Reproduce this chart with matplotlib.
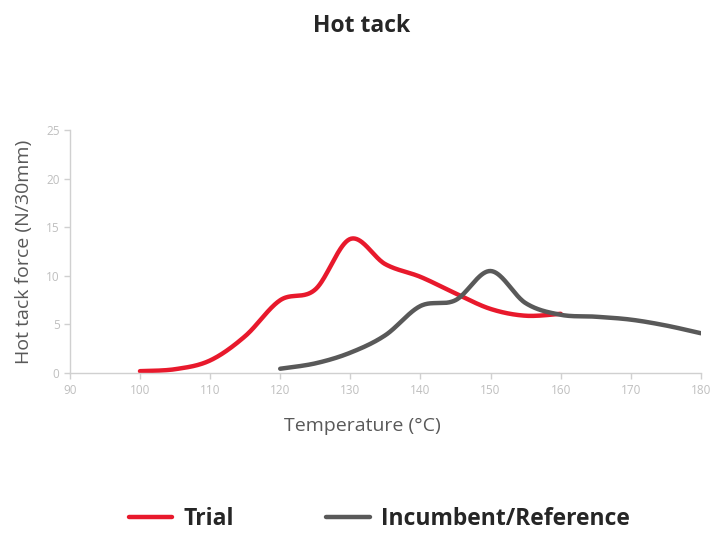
import numpy as np
from matplotlib import pyplot as plt

# values
trial_temp = [100, 105, 110, 115, 120, 125, 130, 135, 140, 145, 150, 155, 160]
trial_force = [0.2, 0.4, 1.3, 3.8, 7.5, 8.6, 13.8, 11.2, 9.9, 8.2, 6.6, 5.9, 6.1]

ref_temp = [120, 125, 130, 135, 140, 145, 150, 155, 160, 165, 170, 175, 180]
ref_force = [0.45, 1.0, 2.1, 3.9, 6.9, 7.5, 10.5, 7.2, 6.0, 5.8, 5.5, 4.9, 4.1]

x_ticks = np.arange(90, 181, 10)
y_ticks = np.arange(0, 26, 5)


def smooth(xs, ys, n=40):
    # excel-ish smoothed line: cubic bezier with catmull-rom control points
    xs = np.asarray(xs, float)
    ys = np.asarray(ys, float)
    px = np.concatenate([[xs[0]], xs, [xs[-1]]])
    py = np.concatenate([[ys[0]], ys, [ys[-1]]])
    out_x, out_y = [], []
    t = np.linspace(0, 1, n)
    for i in range(1, len(px) - 2):
        p0 = np.array([px[i], py[i]])
        p3 = np.array([px[i + 1], py[i + 1]])
        c1 = p0 + (np.array([px[i + 1], py[i + 1]]) - np.array([px[i - 1], py[i - 1]])) / 6
        c2 = p3 - (np.array([px[i + 2], py[i + 2]]) - np.array([px[i], py[i]])) / 6
        pts = ((1 - t) ** 3)[:, None] * p0 + (3 * (1 - t) ** 2 * t)[:, None] * c1 \
            + (3 * (1 - t) * t ** 2)[:, None] * c2 + (t ** 3)[:, None] * p3
        out_x.extend(pts[:, 0])
        out_y.extend(pts[:, 1])
    return out_x, out_y


plt.rcParams['font.family'] = ['Open Sans', 'DejaVu Sans']

fig = plt.figure(figsize=(7.13, 5.33), dpi=100)
ax = fig.add_axes([0.098, 0.3, 0.885, 0.456])

red = "#e8192c"
grey = "#595959"

sx, sy = smooth(trial_temp, trial_force)
ax.plot(sx, sy, color=red, lw=3.2, solid_capstyle='round', label="Trial")
sx, sy = smooth(ref_temp, ref_force)
ax.plot(sx, sy, color=grey, lw=3.2, solid_capstyle='round', label="Incumbent/Reference")

ax.set_xlim(90, 180)
ax.set_ylim(0, 25)
ax.set_xticks(x_ticks)
ax.set_yticks(y_ticks)

for s in ["top", "right"]:
    ax.spines[s].set_visible(False)
for s in ["left", "bottom"]:
    ax.spines[s].set_color("#d0d0d0")
    ax.spines[s].set_linewidth(1.0)
ax.tick_params(colors="#d0d0d0", labelcolor="#bfbfbf", labelsize=8.5, length=4, width=1)

ax.set_xlabel("Temperature (°C)", fontsize=14, color=grey)
ax.xaxis.set_label_coords(0.463, -0.18)
ax.set_ylabel("Hot tack force (N/30mm)", fontsize=14, color=grey, labelpad=9)

fig.text(0.507, 0.952, "Hot tack", ha="center", va="center", fontsize=16.5,
         fontweight="bold", color="#262626")

leg = fig.legend(loc="center", bbox_to_anchor=(0.532, 0.026), ncol=2, frameon=False,
                 prop={'size': 16.5, 'weight': 'bold'}, handlelength=1.9, columnspacing=4.0,
                 handletextpad=0.5, borderpad=0.2)
for txt in leg.get_texts():
    txt.set_color("#262626")

plt.savefig("out.png", dpi=100)
